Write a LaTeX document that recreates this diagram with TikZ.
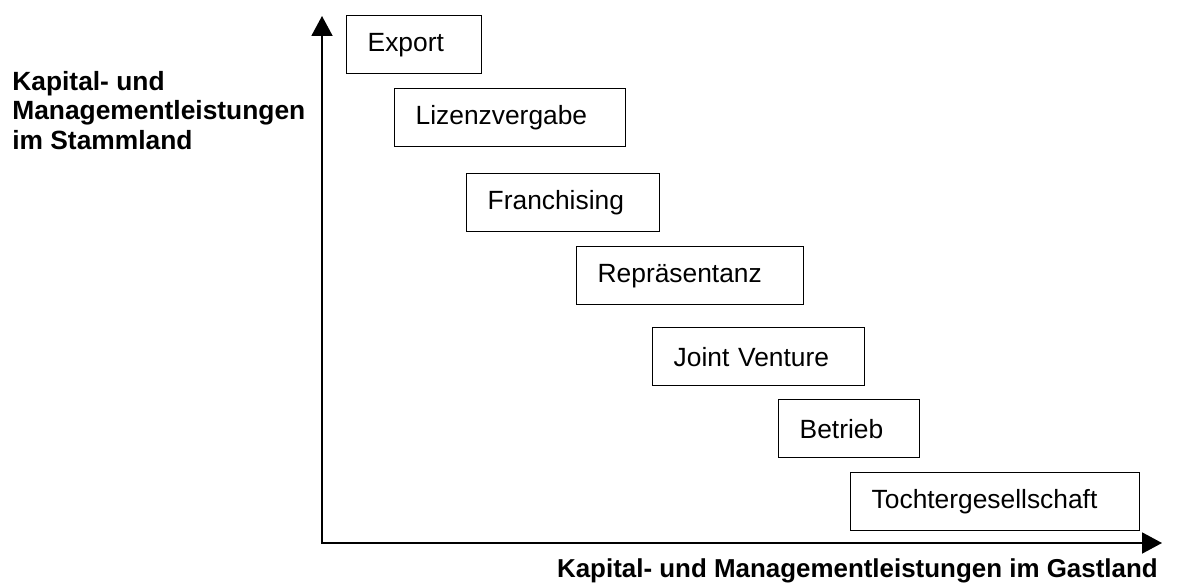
\documentclass[tikz,border=0pt]{standalone}
\usepackage{fontspec}
\setmainfont{Liberation Sans}
\usetikzlibrary{arrows.meta}

\begin{document}
\begin{tikzpicture}[
    stage/.style={draw, line width=0.8pt, anchor=north west, align=left, inner xsep=0.42cm, inner ysep=0pt, minimum height=1.16cm, font=\fontsize{15}{18}\selectfont},
    axislabel/.style={inner sep=0pt, align=left, font=\fontsize{15}{16.8}\selectfont\bfseries},
    axis/.style={line width=1.1pt, {Triangle[width=0.42cm, length=0.40cm]}-{Triangle[width=0.42cm, length=0.40cm]}}
]
    \useasboundingbox (0,0) rectangle (23.62,11.66);

    % Axes
    \coordinate (origin) at (6.44,0.80);
    \coordinate (ytip) at (6.44,11.34);
    \coordinate (xtip) at (23.24,0.80);
    \draw[axis] (ytip) -- (origin) -- (xtip);
    \node[axislabel, anchor=north west] (ylabel) at (0.24,10.24) {Kapital- und\\Managementleistungen\\im Stammland};
    \node[axislabel, anchor=base east, font=\fontsize{14.75}{16}\selectfont\bfseries] (xlabel) at (23.16,0.11) {Kapital- und Managementleistungen im Gastland};

    % Entry modes
    \node[stage, text width=1.86cm] (export) at (6.92,11.36) {Export};
    \node[stage, text width=3.78cm] (lizenz) at (7.88,9.90) {Lizenzvergabe};
    \node[stage, text width=3.02cm] (franchising) at (9.32,8.20) {Franchising};
    \node[stage, text width=3.70cm] (repraesentanz) at (11.52,6.74) {Repräsentanz};
    \node[stage, text width=3.40cm] (jointventure) at (13.04,5.12) {Joint Venture};
    \node[stage, text width=1.98cm] (betrieb) at (15.56,3.68) {Betrieb};
    \node[stage, text width=4.94cm] (tochter) at (17.00,2.22) {Tochtergesellschaft};
\end{tikzpicture}
\end{document}
